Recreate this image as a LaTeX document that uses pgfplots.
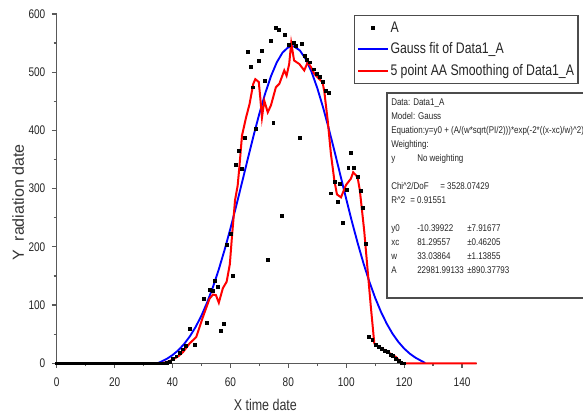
\documentclass[border=0pt]{standalone}
\usepackage{fontspec}
\setmainfont{Liberation Sans}[FakeStretch=0.8]
\newfontfamily\ylabfont{Liberation Sans}
\newfontfamily\statfont{Liberation Sans}[FakeStretch=0.82]
\usepackage{pgfplots}
\pgfplotsset{compat=1.18}
\pgfplotsset{
    shortline/.style={legend image code/.code={\draw[##1] (0pt,0pt) -- (22.5pt,0pt);}},
    onemark/.style={legend image code/.code={\draw[##1, mark size=1pt] plot coordinates {(11.25pt,0pt)};}},
}

\pgfplotstableread{
x y
0 0
1 0
2 0
3 0
4 0
5 0
6 0
7 0
8 0
9 0
10 0
11 0
12 0
13 0
14 0
15 0
16 0
17 0
18 0
19 0
20 0
21 0
22 0
23 0
24 0
25 0
26 0
27 0
28 0
29 0
30 0
31 0
32 0
33 0
34 0
35 0
36 0
37 0
38 1
39 3
40 8
41.3 12
42.4 18
43.6 24
44.5 30
45.9 60
47.8 31
50.7 111
51.7 70
52.8 127
53.9 124
54.7 142
55.7 132
56.8 56
57.8 68
58.8 204
60 223
60.7 151
61.8 341
62.8 365
63.9 334
64.8 388
65.9 535
66.9 509
67.8 474
68.9 402
69.8 519
70.8 536
71.8 486
72.8 177
73.8 554
74.8 413
75.7 577
76.8 573
77.7 253
78.8 565
80.1 547
81.8 551
82.6 546
83.8 388
84.7 549
85.6 528
86.5 522
87.5 517
88.7 505
89.8 497
90.9 492
91.8 484
93 468
93.9 465
94.8 292
96.1 311
97 278
97.8 309
98.7 242
100.2 298
100.7 335
101.7 361
102.6 335
103.9 320
105 296
105.6 267
106.8 206
107.9 46
109 40
110.2 31
111.2 29
112.2 25
113.2 22
114.2 19
115.3 15
116.2 13
117.1 8
118 4
119 1
120 0
}\rawdata

\pgfplotstableread{
x y
35 0.5
36 2.5
38 7.5
40 14.0
42 22.3
44 33.0
46 46.2
48 62.4
50 81.8
52 104.8
54 131.3
56 161.4
58 194.9
60 231.3
62 270.1
64 310.3
66 351.0
68 391.0
70 428.8
72 463.2
74 493.0
76 516.7
78 533.6
80 542.9
81.3 544.6
82 544.1
84 537.2
86 522.6
88 500.8
90 472.7
92 439.5
94 402.6
96 363.2
98 322.6
100 282.1
102 242.7
104 205.6
106 171.1
108 139.9
110 112.3
112 88.3
114 67.9
116 50.7
118 36.7
120 25.3
122 16.3
124 9.3
126 3.9
127.3 0.5
}\gaussfit

\pgfplotstableread{
x y
0 0
36 0
38 2
40 6
42 12
43.6 19
45.9 34
48.2 45
50.4 78
52.8 111
54 118
55 117
56 104
57.4 129
58.7 140
59.8 170
60.5 215
61.6 280
62.5 305
63.1 337
64 391
65.4 422
66.6 445
67.9 480
68.6 488
69.8 483
70.3 457
70.9 422
71.7 451
72.9 431
74 443
75.7 474
76.9 480
78.6 503
79.4 494
80.3 514
81 550
82 520
83.8 514
85.5 503
86.7 517
87.8 509
89 497
90.7 488
91.8 483
92.4 468
93.6 417
94.7 360
95.9 314
96.8 290
98.2 285
99.9 306
101.6 317
102.4 328
103.9 320
104.7 297
105.2 274
106.2 228
107.3 165
108.5 97
109.7 34
110.8 30
113.1 23
115.4 16
117.1 11
119.2 0
145 0
}\smoothed

\begin{document}
\begin{tikzpicture}
\useasboundingbox (0,0) rectangle (437.25pt,314.25pt);
\begin{axis}[
    at={(42.5pt,41.8pt)}, anchor=south west,
    scale only axis, width=314.9pt, height=262pt,
    xmin=0, xmax=145, ymin=0, ymax=600,
    axis x line*=bottom, axis y line*=left,
    axis line style={black!65, line width=0.9pt, -},
    xtick={0,20,...,140}, ytick={0,100,...,600},
    minor xtick={10,30,...,130}, minor ytick={50,150,...,550},
    tick align=outside,
    major tick length=3.5pt, minor tick length=2.2pt,
    tick style={black!65, line width=0.9pt},
    /pgf/number format/assume math mode=true,
    tick label style={font=\fontsize{9.4}{11}\selectfont, text=black!85},
    xticklabel style={yshift=-4pt},
    yticklabel style={xshift=-1.5pt},
    xlabel={X time date},
    xlabel style={at={(axis description cs:0.497,-0.12)}, anchor=center,
                  font=\fontsize{11.7}{13}\selectfont, text=black!80},
    ylabel={\ylabfont Y\ \ radiation date},
    ylabel style={at={(axis description cs:-0.092,0.46)}, anchor=center,
                  font=\fontsize{12}{13}\selectfont, text=black!80},
    legend style={at={(axis description cs:0.708,0.997)}, anchor=north west,
                  draw=black!70, line width=0.9pt, fill=white,
                  inner xsep=2pt, inner ysep=3.5pt,
                  font=\fontsize{11.5}{13}\selectfont, row sep=4.3pt,
                  nodes={inner sep=1pt, text=black!85},
                  /tikz/every even column/.append style={column sep=0pt}},
    legend cell align=left,
    clip=false,
]
%% raw data
\addplot[only marks, mark=square*, mark size=1.1pt, black, onemark]
    table[x=x, y=y] {\rawdata};
\addlegendentry{A}

%% Gauss fit
\addplot[blue, line width=1.4pt, shortline]
    table[x=x, y=y] {\gaussfit};
\addlegendentry{Gauss fit of Data1\_A}

%% 5 point adjacent averaging
\addplot[red, line width=1.5pt, shortline]
    table[x=x, y=y] {\smoothed};
\addlegendentry{5 point AA Smoothing of Data1\_A}
\end{axis}

%% fit report box
\draw[black!70, line width=0.9pt, fill=white] (290.25pt,90.75pt) rectangle (450pt,244.5pt);
\begin{scope}[every node/.style={anchor=base west, inner sep=0pt, text=black!85,
        font=\statfont\fontsize{7.3}{9}\selectfont}]
\node at (293.25pt,235.125pt) {Data: Data1\_A};
\node at (293.25pt,224.625pt) {Model: Gauss};
\node at (293.25pt,214.125pt) {Equation:y=y0 + (A/(w*sqrt(PI/2)))*exp(-2*((x-xc)/w)\textasciicircum 2)};
\node at (293.25pt,203.625pt) {Weighting:};
\node at (293.25pt,193.125pt) {y};
\node at (312.75pt,193.125pt) {No weighting};
\node at (293.25pt,172.125pt) {Chi\textasciicircum 2/DoF};
\node at (330pt,172.125pt) {= 3528.07429};
\node at (293.25pt,161.625pt) {R\textasciicircum 2};
\node at (307.5pt,161.625pt) {= 0.91551};
\node at (293.25pt,140.625pt) {y0};
\node at (312.75pt,140.625pt) {-10.39922};
\node at (350.25pt,140.625pt) {±7.91677};
\node at (293.25pt,130.125pt) {xc};
\node at (312.75pt,130.125pt) {81.29557};
\node at (350.25pt,130.125pt) {±0.46205};
\node at (293.25pt,119.625pt) {w};
\node at (312.75pt,119.625pt) {33.03864};
\node at (350.25pt,119.625pt) {±1.13855};
\node at (293.25pt,109.125pt) {A};
\node at (312.75pt,109.125pt) {22981.99133};
\node at (350.25pt,109.125pt) {±890.37793};
\end{scope}
\end{tikzpicture}
\end{document}
